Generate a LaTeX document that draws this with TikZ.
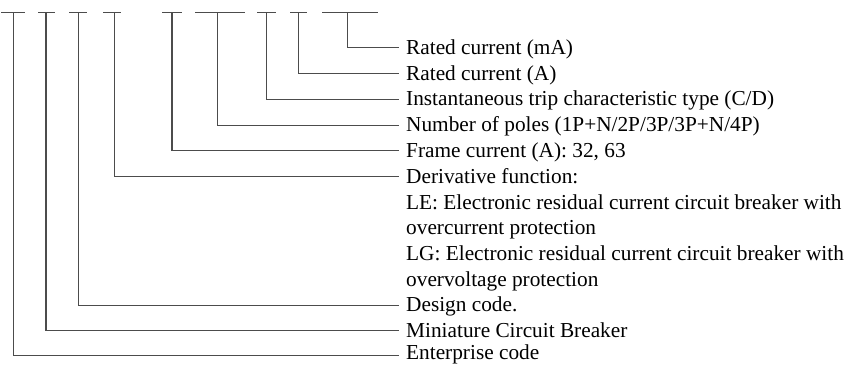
\documentclass[tikz,border=0pt]{standalone}
\usepackage{fontspec}
\setmainfont{Liberation Serif}
\begin{document}
\begin{tikzpicture}[x=1pt,y=-1pt,
  ln/.style={draw=black!70,line width=1.1pt},
  lbl/.style={anchor=base west,inner sep=0pt,font=\fontsize{21.3}{24}\selectfont}]
\useasboundingbox (0,0) rectangle (851,364);
% top bars and connectors
\foreach \v/\a/\b/\y/\n in {13.3/1/25/355.5/1, 46/38/55/330.5/2, 78.7/69/87/305.2/3, 114.3/103/121/176.7/4, 172/162/182/150.9/5, 217.3/195/245/125.1/6, 266.7/257/276/99.3/7, 298.3/290/307/73.5/8, 347.7/322/378/47.7/9}{
  \coordinate (t\n) at (\v,12.3);
  \coordinate (e\n) at (399,\y);
  \draw[ln] (\a,12.3) -- (\b,12.3);
  \draw[ln] (t\n) |- (e\n);
}
\node[lbl] (l9) at (406,54.2) {Rated current (mA)};
\node[lbl] (l8) at (406,80) {Rated current (A)};
\node[lbl] (l7) at (406,105.8) {Instantaneous trip characteristic type (C/D)};
\node[lbl] (l6) at (406,131.6) {Number of poles (1P+N/2P/3P/3P+N/4P)};
\node[lbl] (l5) at (406,157.4) {Frame current (A): 32, 63};
\node[lbl] (l4) at (406,183.2) {Derivative function:};
\node[lbl] (l4a) at (406,209) {LE: Electronic residual current circuit breaker with};
\node[lbl] (l4b) at (406,234.8) {overcurrent protection};
\node[lbl] (l4c) at (406,260.6) {LG: Electronic residual current circuit breaker with};
\node[lbl] (l4d) at (406,286.4) {overvoltage protection};
\node[lbl] (l3) at (406,311.7) {Design code.};
\node[lbl] (l2) at (406,337) {Miniature Circuit Breaker};
\node[lbl] (l1) at (406,359) {Enterprise code};
\end{tikzpicture}
\end{document}
